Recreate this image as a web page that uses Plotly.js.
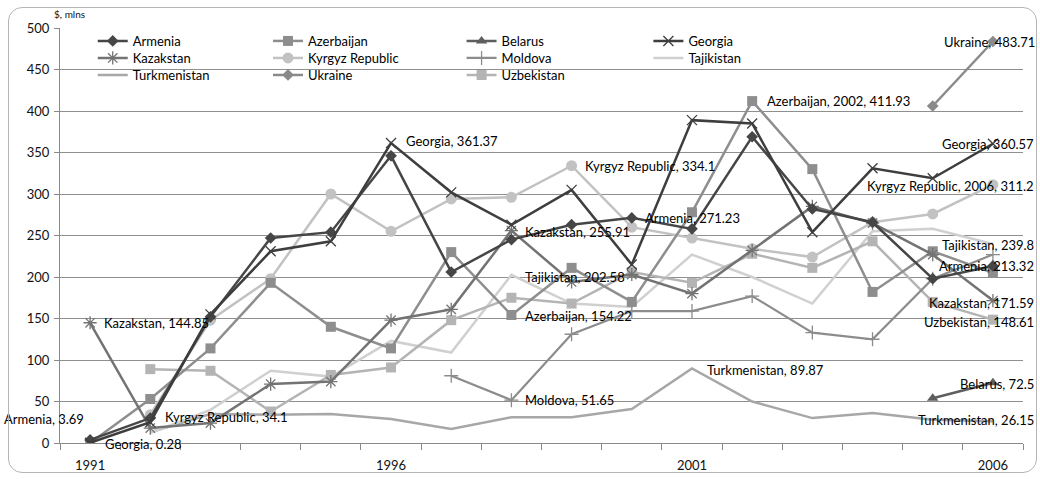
<!DOCTYPE html>
<html>
<head>
<meta charset="utf-8">
<script src="https://cdn.plot.ly/plotly-3.0.1.min.js"></script>
<style>
  html, body { margin: 0; padding: 0; background: #fff; }
  #wrap { position: relative; width: 1040px; height: 479px; }
  #chart { position: absolute; left: 0; top: 0; width: 1040px; height: 479px; }
  #frame { position: absolute; left: 8px; top: 7px; width: 1029px; height: 466px;
           border: 1px solid #b5b5b5; border-radius: 14px; pointer-events: none; box-sizing: border-box; }
</style>
</head>
<body>
<div id="wrap"><div id="chart"></div><div id="frame"></div></div>
<script>
// ---- data ----
const years = [1991,1992,1993,1994,1995,1996,1997,1998,1999,2000,2001,2002,2003,2004,2005,2006];
const tickYears = [1991, 1996, 2001, 2006];

const armenia      = [3.69, 30, 152, 247, 254, 346, 206, 245, 263, 271.23, 258, 369, 282, 266, 198, 213.32];
const azerbaijan   = [0, 53, 114, 193, 140, 114, 230, 154.22, 211, 170, 278, 411.93, 330, 182, 231, 205];
const belarus      = [null,null,null,null,null,null,null,null,null,null,null,null,null,null, 54, 72.5];
const georgia      = [0.28, 25, 155, 231, 243, 361.37, 302, 263, 305, 215, 389, 385, 254, 331, 319, 360.57];
const kazakhstan   = [144.85, 18, 24, 71, 74, 148, 161, 255.91, 194, 203, 180, 232, 285, 265, 227, 171.59];
const kyrgyz       = [null, 34.1, 148, 198, 300, 255, 294, 296, 334.1, 260, 247, 234, 224, 266, 276, 311.2];
const moldova      = [null,null,null,null,null,null, 81, 51.65, 131, 159, 159, 177, 133, 125, 198, 227];
const tajikistan   = [null, 12, 40, 87, 80, 123, 109, 202.58, 168, 164, 227, 200, 168, 255, 258, 239.8];
const turkmenistan = [null, 13, 35, 34, 35, 29, 17, 31, 31, 41, 89.87, 50, 30, 36, 28, 26.15];
const ukraine      = [null,null,null,null,null,null,null,null,null,null,null,null,null,null, 406, 483.71];
const uzbekistan   = [null, 89, 87, 38, 82, 91, 148, 175, 168, 206, 193, 228, 211, 243, 170, 148.61];

const names = ["Armenia","Azerbaijan","Belarus","Georgia","Kazakstan","Kyrgyz Republic",
               "Moldova","Tajikistan","Turkmenistan","Ukraine","Uzbekistan"];

// ---- styles ----
const FONT = 'Lato, "Open Sans", sans-serif';
const series = [
  {name: names[0],  y: armenia,      color: '#464646', sym: 'diamond',         size: 9,  lw: 2.5, legend: 'legend',   lx: 0.034, ly: 0},
  {name: names[1],  y: azerbaijan,   color: '#8e8e8e', sym: 'square',          size: 10, lw: 2.5, legend: 'legend2',  lx: 0.216, ly: 0},
  {name: names[2],  y: belarus,      color: '#5e5e5e', sym: 'triangle-up',     size: 10, lw: 2.5, legend: 'legend3',  lx: 0.417, ly: 0},
  {name: names[3],  y: georgia,      color: '#3e3e3e', sym: 'x-thin-open',     size: 10, lw: 2.5, legend: 'legend4',  lx: 0.611, ly: 0},
  {name: names[4],  y: kazakhstan,   color: '#737373', sym: 'asterisk-open',   size: 11, lw: 2.5, legend: 'legend5',  lx: 0.034, ly: 1},
  {name: names[5],  y: kyrgyz,       color: '#c2c2c2', sym: 'circle',          size: 11, lw: 2.5, legend: 'legend6',  lx: 0.216, ly: 1},
  {name: names[6],  y: moldova,      color: '#8c8c8c', sym: 'cross-thin-open', size: 10, lw: 2.2, legend: 'legend7',  lx: 0.417, ly: 1},
  {name: names[7],  y: tajikistan,   color: '#d0d0d0', sym: null,              size: 0,  lw: 2.5, legend: 'legend8',  lx: 0.611, ly: 1},
  {name: names[8],  y: turkmenistan, color: '#a7a7a7', sym: null,              size: 0,  lw: 2.5, legend: 'legend9',  lx: 0.034, ly: 2},
  {name: names[9],  y: ukraine,      color: '#8a8a8a', sym: 'diamond',         size: 9,  lw: 2.5, legend: 'legend10', lx: 0.216, ly: 2},
  {name: names[10], y: uzbekistan,   color: '#b4b4b4', sym: 'square',          size: 10, lw: 2.5, legend: 'legend11', lx: 0.417, ly: 2}
];
const drawOrder = [8, 7, 10, 6, 5, 1, 4, 9, 2, 0, 3];
const rowY = [0.9687, 0.9277, 0.8867];

const traces = drawOrder.map(i => {
  const s = series[i];
  const t = {
    type: 'scatter', x: years, y: s.y, name: s.name, legend: s.legend,
    mode: s.sym ? 'lines+markers' : 'lines',
    line: {color: s.color, width: s.lw},
    hoverinfo: 'skip'
  };
  if (s.sym) {
    t.marker = {symbol: s.sym, size: s.size, color: s.color,
                line: {color: s.color, width: s.sym.indexOf('open') >= 0 ? 1.3 : 0}};
  }
  return t;
});

// ---- data labels ----
function lab(name, arr, yr, xa, xs, ys, extra) {
  const v = arr[years.indexOf(yr)];
  return {x: yr, y: v, xref: 'x', yref: 'y', showarrow: false,
          text: name + ', ' + (extra ? extra + ', ' : '') + v,
          xanchor: xa, yanchor: 'middle', xshift: xs, yshift: ys,
          font: {family: FONT, size: 13, color: '#000'}};
}
const annotations = [
  lab('Armenia', armenia, 1991, 'right', -4, 21),
  lab('Georgia', georgia, 1991, 'left', 13, -1),
  lab('Kazakstan', kazakhstan, 1991, 'left', 12, 0),
  lab('Kyrgyz Republic', kyrgyz, 1992, 'left', 13, -2),
  lab('Georgia', georgia, 1996, 'left', 13, 2),
  lab('Kyrgyz Republic', kyrgyz, 1999, 'left', 11, 0),
  lab('Kazakstan', kazakhstan, 1998, 'left', 12, -1),
  lab('Armenia', armenia, 2000, 'left', 11, 0),
  lab('Tajikistan', tajikistan, 1998, 'left', 12, -2),
  lab('Azerbaijan', azerbaijan, 1998, 'left', 12, -1),
  lab('Moldova', moldova, 1998, 'left', 12, 0),
  lab('Turkmenistan', turkmenistan, 2001, 'left', 13, -2),
  lab('Azerbaijan', azerbaijan, 2002, 'left', 13, 0, '2002'),
  lab('Ukraine', ukraine, 2006, 'center', -3, 0),
  lab('Georgia', georgia, 2006, 'right', 43, 0),
  lab('Kyrgyz Republic', kyrgyz, 2006, 'right', 43, -1, '2006'),
  lab('Tajikistan', tajikistan, 2006, 'right', 43, -1),
  lab('Armenia', armenia, 2006, 'right', 43, 0),
  lab('Kazakstan', kazakhstan, 2006, 'right', 43, -2),
  lab('Uzbekistan', uzbekistan, 2006, 'right', 43, -2),
  lab('Belarus', belarus, 2006, 'right', 43, -1),
  lab('Turkmenistan', turkmenistan, 2006, 'right', 43, 1),
  {xref: 'paper', yref: 'paper', x: -0.008, y: 1.034, xanchor: 'left', yanchor: 'middle',
   showarrow: false, text: '$, mlns', font: {family: FONT, size: 10, color: '#111'}}
];

const layout = {
  width: 1040, height: 479,
  margin: {l: 60, r: 17, t: 28, b: 36},
  paper_bgcolor: 'rgba(0,0,0,0)', plot_bgcolor: 'rgba(0,0,0,0)',
  font: {family: FONT, size: 13, color: '#111'},
  xaxis: {
    type: 'linear', range: [years[0] - 0.5, years[years.length - 1] + 0.5],
    tickmode: 'array', tickvals: tickYears, ticktext: tickYears.map(String),
    ticks: '', showgrid: false, zeroline: false,
    showline: true, linecolor: '#8a8a8a', linewidth: 1,
    ticklabelstandoff: 10,
    tickfont: {family: FONT, size: 13, color: '#111'},
    minor: {tickmode: 'linear', tick0: years[0] - 0.5, dtick: 1, ticks: 'outside',
            ticklen: 6, tickcolor: '#8a8a8a', showgrid: false},
    fixedrange: true
  },
  yaxis: {
    range: [0, 500], dtick: 50, tick0: 0,
    showgrid: true, gridcolor: '#8f8f8f', gridwidth: 1,
    zeroline: false, showline: true, linecolor: '#8a8a8a', linewidth: 1,
    ticks: 'outside', ticklen: 5, tickcolor: '#8a8a8a',
    ticklabelstandoff: 2,
    tickfont: {family: FONT, size: 13, color: '#111'},
    fixedrange: true
  },
  annotations: annotations,
  showlegend: true
};

series.forEach(s => {
  layout[s.legend] = {
    x: s.lx, y: rowY[s.ly], xanchor: 'left', yanchor: 'middle',
    bgcolor: 'rgba(0,0,0,0)', borderwidth: 0,
    font: {family: FONT, size: 13, color: '#000'},
    itemwidth: 30, tracegroupgap: 0
  };
});

Plotly.newPlot('chart', traces, layout, {displayModeBar: false, staticPlot: true});
</script>
</body>
</html>
